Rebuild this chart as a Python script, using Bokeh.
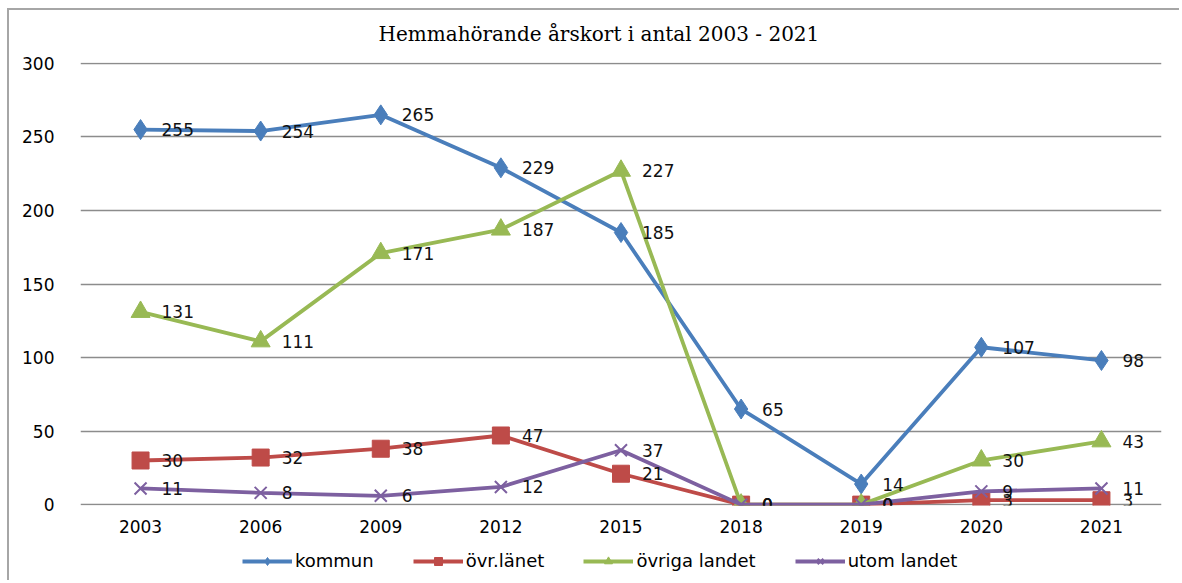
from bokeh.plotting import figure
from bokeh.layouts import column
from bokeh.models import ColumnDataSource, FactorRange, Legend, LegendItem, SingleIntervalTicker, Range1d, Label
from bokeh.core.properties import value
from bokeh.embed import file_html
from bokeh.resources import INLINE

years = ["2003", "2006", "2009", "2012", "2015", "2018", "2019", "2020", "2021"]
kommun = [255, 254, 265, 229, 185, 65, 14, 107, 98]
ovr_lanet = [30, 32, 38, 47, 21, 0, 0, 3, 3]
ovriga_landet = [131, 111, 171, 187, 227, 0, 0, 30, 43]
utom_landet = [11, 8, 6, 12, 37, 0, 0, 9, 11]
series_names = ["kommun", "övr.länet", "övriga landet", "utom landet"]
title_text = "Hemmahörande årskort i antal 2003 - 2021"

FONT = "DejaVu Sans"


def strip(height):
    f = figure(width=1170, height=height, x_range=Range1d(0, 1), y_range=Range1d(0, 1),
               output_backend="svg", toolbar_location=None,
               x_axis_location=None, y_axis_location=None,
               min_border_left=0, min_border_right=0, min_border_top=0, min_border_bottom=0)
    f.grid.grid_line_color = None
    f.outline_line_color = None
    f.background_fill_color = "white"
    f.border_fill_color = "white"
    return f


# title strip (its frame is aligned with the chart frame)
pt = strip(40)
pt.add_layout(Label(x=298, y=17, x_units="screen", y_units="screen", text=title_text,
                    text_align="left", text_baseline="middle", text_font="DejaVu Serif",
                    text_font_size="20px", text_color="#000000"))

p = figure(width=1170, height=490, x_range=FactorRange(*years), y_range=(-0.6, 300.6),
           output_backend="svg", toolbar_location=None,
           min_border_left=71, min_border_right=18, min_border_top=12, min_border_bottom=35)
p.outline_line_color = None
p.background_fill_color = "white"
p.border_fill_color = "white"

p.xgrid.grid_line_color = None
p.ygrid.grid_line_color = "#8c8c8c"
p.ygrid.grid_line_width = 1.5
p.yaxis.ticker = SingleIntervalTicker(interval=50)

for ax in (p.xaxis, p.yaxis):
    ax.axis_line_color = None
    ax.major_tick_line_color = None
    ax.minor_tick_line_color = None
    ax.major_label_text_font = FONT
    ax.major_label_text_font_size = "17px"
    ax.major_label_text_color = "#000000"
p.yaxis.major_label_standoff = 20
p.xaxis.major_label_standoff = 8

colors = ["#4A7EBB", "#BE4B48", "#98B954", "#7D60A0"]
markers = ["diamond", "square", "triangle", "x"]
sizes = [20, 17, 19, 17]
all_vals = [kommun, ovr_lanet, ovriga_landet, utom_landet]

# legend strip below the chart
pl = strip(40)
# off-screen proxy source so the legend swatches get drawn
proxy = ColumnDataSource(dict(x=[-10], y=[-10]))

items = []
for name, vals, c, m, s in zip(series_names, all_vals, colors, markers, sizes):
    src = ColumnDataSource(dict(x=years, y=vals))
    p.line("x", "y", source=src, line_color=c, line_width=3.8)
    if m == "x":
        p.scatter("x", "y", source=src, marker=m, size=s, line_color=c, line_width=2)
        lsc = pl.scatter("x", "y", source=proxy, marker=m, size=s - 3, line_color=c, line_width=2)
    else:
        p.scatter("x", "y", source=src, marker=m, size=s, fill_color=c, line_color=c)
        lsc = pl.scatter("x", "y", source=proxy, marker=m, size=s - 3, fill_color=c, line_color=c)
    lln = pl.line("x", "y", source=proxy, line_color=c, line_width=3.8)
    items.append(LegendItem(label=name, renderers=[lln, lsc]))

for vals in all_vals:
    src = ColumnDataSource(dict(x=years, y=vals, lbl=[str(v) for v in vals]))
    p.text("x", "y", text="lbl", source=src, x_offset=21, text_baseline="middle",
           text_align="left", text_font=value(FONT), text_font_size="17px", text_color="#111111")

legend = Legend(items=items, orientation="horizontal", location=(162, 9),
                glyph_width=50, glyph_height=20, label_standoff=3, spacing=39,
                padding=0, margin=0, border_line_color=None, background_fill_alpha=0,
                label_text_font=FONT, label_text_font_size="18px", label_text_color="#000000")
pl.add_layout(legend)

layout = column(pt, p, pl, spacing=0)
layout.styles = {"margin-left": "7px", "margin-top": "8px",
                 "border-top": "2px solid #a6a6a6", "border-left": "2px solid #a6a6a6"}

open("out.html", "w").write(file_html(layout, INLINE))
